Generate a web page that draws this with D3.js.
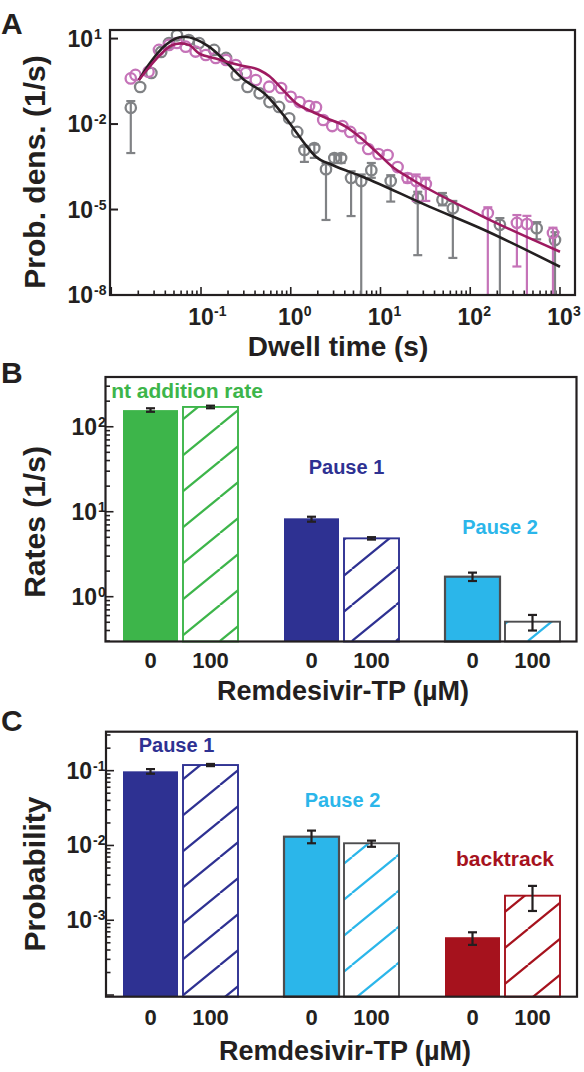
<!DOCTYPE html>
<html><head><meta charset="utf-8">
<script src="https://cdn.jsdelivr.net/npm/d3@7"></script>
<style>
body{margin:0;background:#fff}
svg{display:block}
text{font-family:"Liberation Sans",Arial,Helvetica,sans-serif;font-weight:bold;fill:#231f20}
</style>
</head><body>
<svg id="chart" width="584" height="1072"></svg>
<script>
// ================= DATA =================
// Panel A: dwell-time distributions (0 µM = gray, 100 µM = pink)
const grayT  = [0.0165,0.021,0.028,0.036,0.044,0.054,0.073,0.095,0.14,0.19,0.25,0.33,0.45,0.58,0.74,0.96,1.18,1.42,1.83,2.47,3.06,3.64,4.7,6.1,7.9,13,26,49,64,214,550,880];
const grayP  = [0.037,0.20,0.62,3.4,7.0,13.0,8.9,7.0,4.0,2.1,0.53,0.20,0.12,0.059,0.040,0.016,0.0053,1.23e-3,1.44e-3,2.6e-4,6.4e-4,6.4e-4,1.28e-4,1.0e-4,2.4e-4,1.0e-4,2.5e-5,2.2e-5,1.1e-5,2.9e-6,2.2e-6,8.5e-7];
const grayLo = [9.6e-4,null,null,null,null,null,null,null,null,null,null,null,null,null,null,null,null,4.7e-4,6.5e-4,4.3e-6,4.3e-4,4.3e-4,5.9e-6,1e-10,1.3e-4,1.9e-5,2.5e-7,1.4e-5,2.0e-7,1e-10,9e-7,1e-10];
const grayHi = [0.064,null,null,null,null,null,null,null,null,null,null,null,null,null,null,null,null,1.6e-3,1.9e-3,4.3e-4,8.5e-4,8.5e-4,2.2e-4,1.7e-4,4.3e-4,1.6e-4,4.2e-5,3.8e-5,2.0e-5,5e-6,3.6e-6,1.6e-6];

const pinkT  = [0.0165,0.0186,0.026,0.034,0.044,0.054,0.0675,0.087,0.113,0.146,0.19,0.244,0.316,0.408,0.575,0.78,1.0,1.25,1.6,1.91,2.3,2.9,3.76,4.6,6.0,7.3,9.5,12,15.5,20,25,32,157,331,428,835];
const pinkP  = [0.40,0.53,0.69,4.0,6.0,7.0,5.2,3.5,2.65,2.1,1.77,1.18,0.62,0.35,0.205,0.184,0.091,0.059,0.043,0.039,0.0139,0.0085,0.0085,0.0053,0.0032,0.00133,8.9e-4,8.2e-4,3.1e-4,1.28e-4,1.0e-4,7.9e-5,7.5e-6,3.4e-6,3.1e-6,1.5e-6];
const pinkLo = [null,null,null,null,null,null,null,null,null,null,null,null,null,null,null,null,null,null,null,null,null,null,null,null,null,null,null,null,null,9e-5,2.0e-5,2.0e-5,1e-10,1.0e-7,1e-10,1e-10];
const pinkHi = [null,null,null,null,null,null,null,null,null,null,null,null,null,null,null,null,null,null,null,null,null,null,null,null,null,null,null,null,null,1.8e-4,1.7e-4,1.3e-4,1.2e-5,6.4e-6,6e-6,2.3e-6];

const fit0T = [0.0203,0.026,0.0403,0.0645,0.1228,0.189,0.29,0.53,0.885,1.14,1.47,1.91,2.91,6.3,35,128,1000];
const fit0P = [0.35,1.18,6.0,11.6,5.2,1.54,0.40,0.105,0.0159,5.4e-3,1.84e-3,7.1e-4,3.65e-4,1.42e-4,1.26e-5,2.24e-6,9.8e-8];
const fit100T = [0.0203,0.026,0.0367,0.046,0.059,0.0734,0.095,0.146,0.266,0.445,0.575,0.8,1.14,1.74,2.47,4.1,5.82,8.95,13.5,21.1,128,1000];
const fit100P = [0.35,0.93,3.1,5.6,6.8,6.0,3.0,2.0,1.18,0.79,0.485,0.17,0.055,0.027,0.0163,0.0081,0.0036,0.00107,3.2e-4,1.28e-4,6.4e-6,3.3e-7];

const xTicksA = [0.1,1,10,100,1000];
const xTickExpA = ['-1','0','1','2','3'];
const yTicksA = [10,1e-2,1e-5,1e-8];
const yTickExpA = ['1','-2','-5','-8'];

// Panel B: rates
const rateGroups = ['nt addition rate','Pause 1','Pause 2'];
const concs = ['0','100'];
const rate0   = [157,8.36,1.72];
const rate0Lo = [150,7.63,1.53];
const rate0Hi = [165,8.73,1.92];
const rate100   = [171,4.86,0.508];
const rate100Lo = [165,4.70,0.40];
const rate100Hi = [177,5.02,0.61];
const yTicksB = [1,10,100];
const yTickExpB = ['0','1','2'];

// Panel C: probabilities
const probGroups = ['Pause 1','Pause 2','backtrack'];
const prob0   = [0.098,0.0131,5.93e-4];
const prob0Lo = [0.091,0.0107,4.68e-4];
const prob0Hi = [0.105,0.0158,6.9e-4];
const prob100   = [0.119,0.0107,2.13e-3];
const prob100Lo = [0.115,0.0096,1.33e-3];
const prob100Hi = [0.123,0.0116,2.88e-3];
const yTicksC = [0.1,0.01,0.001];
const yTickExpC = ['-1','-2','-3'];

// ================= STYLE =================
const ink = '#231f20';
const grayC = '#808285', pinkC = '#c573b8', blackLine = '#231f20', crimson = '#9e1a60';
const green = '#3db54a', navy = '#2e3192', cyan = '#2bb6ea', red = '#a6121d', edgeGray = '#4d4d4f';

const svg = d3.select('#chart');
const defs = svg.append('defs');

function hatch(id, color){
  const w = 44, h = 36;
  const p = defs.append('pattern').attr('id', id).attr('patternUnits','userSpaceOnUse')
    .attr('width', w).attr('height', h).attr('y', -7);
  p.append('rect').attr('width', w).attr('height', h).attr('fill','#fff');
  p.append('path').attr('d', `M${-w},${h} L0,0 M0,${h} L${w},0 M${w},${h} L${2*w},0`)
    .attr('stroke', color).attr('stroke-width', 2.2).attr('fill','none');
}
hatch('hG', green); hatch('hN', navy); hatch('hC', cyan); hatch('hR', red);

function minorTicks(domain){
  const out = [];
  const lo = Math.floor(Math.log10(domain[0])), hi = Math.ceil(Math.log10(domain[1]));
  for(let e = lo; e <= hi; e++) for(let m = 1; m <= 9; m++){
    const v = m * Math.pow(10, e);
    if(v >= domain[0] && v <= domain[1]) out.push({v, major: m === 1});
  }
  return out;
}

function yLabelPow(g, y, x10end, exp){
  g.append('text').attr('x', x10end).attr('y', y + 8).attr('text-anchor','end').attr('font-size', 23).text('10');
  g.append('text').attr('x', x10end + 1).attr('y', y).attr('font-size', 14).text(exp);
}

function panelLetter(t, x, y){ svg.append('text').attr('x', x).attr('y', y).attr('font-size', 30).text(t); }

// ================= PANEL A =================
const A = {l:110, r:575, t:30, b:295};
const xA = d3.scaleLog().domain([0.00968, 1470]).range([A.l, A.r]);
const yA = d3.scaleLog().domain([1e-8, 20]).range([A.b, A.t]).clamp(true);
const gA = svg.append('g');

// x ticks
gA.selectAll('line.xt').data(minorTicks(xA.domain())).enter().append('line')
  .attr('x1', d => xA(d.v)).attr('x2', d => xA(d.v))
  .attr('y1', A.b).attr('y2', d => A.b - (d.major ? 8 : 4.5))
  .attr('stroke', ink).attr('stroke-width', 1.6);
// y ticks
gA.selectAll('line.yt').data(yTicksA).enter().append('line')
  .attr('x1', A.l).attr('x2', A.l + 8).attr('y1', d => yA(d)).attr('y2', d => yA(d))
  .attr('stroke', ink).attr('stroke-width', 2);

xTicksA.forEach((v,i) => {
  const x = xA(v);
  gA.append('text').attr('x', x).attr('y', 325).attr('text-anchor','middle').attr('font-size', 23).text('10');
  gA.append('text').attr('x', x + 13).attr('y', 316).attr('font-size', 14).text(xTickExpA[i]);
});
yTicksA.forEach((v,i) => yLabelPow(gA, yA(v), A.l - 17, yTickExpA[i]));

// error bars
function errBarsA(T, P, Lo, Hi, color){
  const idx = T.map((t,i) => i).filter(i => Lo[i] !== null);
  const g = gA.append('g').attr('stroke', color).attr('stroke-width', 2.2).attr('fill','none');
  idx.forEach(i => {
    const x = xA(T[i]);
    g.append('line').attr('x1', x).attr('x2', x).attr('y1', yA(Lo[i])).attr('y2', yA(Hi[i]));
    g.append('line').attr('x1', x-4.5).attr('x2', x+4.5).attr('y1', yA(Hi[i])).attr('y2', yA(Hi[i]));
    if(Lo[i] > 1e-8) g.append('line').attr('x1', x-4.5).attr('x2', x+4.5).attr('y1', yA(Lo[i])).attr('y2', yA(Lo[i]));
  });
}
function circlesA(T, P, color){
  gA.append('g').selectAll('circle').data(T).enter().append('circle')
    .attr('cx', (t) => xA(t)).attr('cy', (t,i) => yA(P[i])).attr('r', 5.2)
    .attr('fill','none').attr('stroke', color).attr('stroke-width', 2.3);
}
errBarsA(grayT, grayP, grayLo, grayHi, grayC);
circlesA(grayT, grayP, grayC);
errBarsA(pinkT, pinkP, pinkLo, pinkHi, pinkC);
circlesA(pinkT, pinkP, pinkC);

const lineA = d3.line().x(d => xA(d[0])).y(d => yA(d[1])).curve(d3.curveMonotoneX);
gA.append('path').attr('d', lineA(fit0T.map((t,i) => [t, fit0P[i]])))
  .attr('fill','none').attr('stroke', blackLine).attr('stroke-width', 2.6);
gA.append('path').attr('d', lineA(fit100T.map((t,i) => [t, fit100P[i]])))
  .attr('fill','none').attr('stroke', crimson).attr('stroke-width', 2.6);

gA.append('rect').attr('x', A.l).attr('y', A.t).attr('width', A.r - A.l).attr('height', A.b - A.t)
  .attr('fill','none').attr('stroke', ink).attr('stroke-width', 2.2);

gA.append('text').attr('x', 338).attr('y', 356).attr('text-anchor','middle').attr('font-size', 28).text('Dwell time (s)');
gA.append('text').attr('transform', 'translate(45,172) rotate(-90)').attr('text-anchor','middle').attr('font-size', 30).text('Prob. dens. (1/s)');
panelLetter('A', 1, 34);

// ================= BAR PANELS =================
function barPanel(P, yDomain, groups, v0, lo0, hi0, v1, lo1, hi1, fills, edges0, edges1, hatches, yTicks, yExp, x10end, labBase){
  const g = svg.append('g');
  const y = d3.scaleLog().domain(yDomain).range([P.b, P.t]);
  const xG = d3.scaleBand().domain(groups).range([100, 583]);
  const xC = d3.scaleBand().domain(concs).range([0, 115]).paddingInner(1/12);
  const gx = gr => xG(gr) + (xG.bandwidth() - 115) / 2;

  groups.forEach((gr, i) => {
    const x0 = gx(gr) + xC('0'), x1 = gx(gr) + xC('100'), bw = xC.bandwidth();
    g.append('rect').attr('x', x0).attr('y', y(v0[i])).attr('width', bw).attr('height', P.b - y(v0[i]))
      .attr('fill', fills[i]).attr('stroke', edges0[i]).attr('stroke-width', edges0[i] === 'none' ? 0 : 2.2);
    g.append('rect').attr('x', x1).attr('y', y(v1[i])).attr('width', bw).attr('height', P.b - y(v1[i]))
      .attr('fill', `url(#${hatches[i]})`).attr('stroke', edges1[i]).attr('stroke-width', 1.9);
    [[x0, lo0[i], hi0[i]], [x1, lo1[i], hi1[i]]].forEach(([bx, lo, hi]) => {
      const cx = bx + bw / 2;
      const eg = g.append('g').attr('stroke', ink).attr('stroke-width', 2.2);
      eg.append('line').attr('x1', cx).attr('x2', cx).attr('y1', y(lo)).attr('y2', y(hi));
      eg.append('line').attr('x1', cx-4.5).attr('x2', cx+4.5).attr('y1', y(lo)).attr('y2', y(lo));
      eg.append('line').attr('x1', cx-4.5).attr('x2', cx+4.5).attr('y1', y(hi)).attr('y2', y(hi));
    });
    g.append('text').attr('x', x0 + bw/2).attr('y', labBase).attr('text-anchor','middle').attr('font-size', 22).text('0');
    g.append('text').attr('x', x1 + bw/2).attr('y', labBase).attr('text-anchor','middle').attr('font-size', 22).text('100');
  });

  g.selectAll('line.t').data(minorTicks(y.domain())).enter().append('line')
    .attr('x1', P.l).attr('x2', d => P.l + (d.major ? 8 : 4.5))
    .attr('y1', d => y(d.v)).attr('y2', d => y(d.v))
    .attr('stroke', ink).attr('stroke-width', 1.6);
  yTicks.forEach((v,i) => yLabelPow(g, y(v), x10end, yExp[i]));

  g.append('rect').attr('x', P.l).attr('y', P.t).attr('width', P.r - P.l).attr('height', P.b - P.t)
    .attr('fill','none').attr('stroke', ink).attr('stroke-width', 2.2);
  return {g, y, xG};
}

// Panel B
const B = {l:105.5, r:576.5, t:377, b:641.5};
const pB = barPanel(B, [0.297, 385], rateGroups, rate0, rate0Lo, rate0Hi, rate100, rate100Lo, rate100Hi,
  [green, navy, cyan], ['none','none',edgeGray], [green, navy, edgeGray], ['hG','hN','hC'],
  yTicksB, yTickExpB, 97, 668);
pB.g.append('text').attr('x', 187).attr('y', 398).attr('text-anchor','middle').attr('font-size', 21).style('fill', green).text('nt addition rate');
pB.g.append('text').attr('x', 346.5).attr('y', 474).attr('text-anchor','middle').attr('font-size', 20).style('fill', navy).text('Pause 1');
pB.g.append('text').attr('x', 500).attr('y', 534).attr('text-anchor','middle').attr('font-size', 20).style('fill', cyan).text('Pause 2');
pB.g.append('text').attr('x', 343).attr('y', 700).attr('text-anchor','middle').attr('font-size', 27).text('Remdesivir-TP (µM)');
pB.g.append('text').attr('transform', 'translate(45,522) rotate(-90)').attr('text-anchor','middle').attr('font-size', 30).text('Rates (1/s)');
panelLetter('B', 1, 383);

// Panel C
const C = {l:106, r:577, t:731.7, b:996.7};
const pC = barPanel(C, [9.5e-5, 0.332], probGroups, prob0, prob0Lo, prob0Hi, prob100, prob100Lo, prob100Hi,
  [navy, cyan, red], ['none',edgeGray,'none'], [navy, edgeGray, red], ['hN','hC','hR'],
  yTicksC, yTickExpC, 92, 1025);
pC.g.append('text').attr('x', 176.5).attr('y', 752).attr('text-anchor','middle').attr('font-size', 20).style('fill', navy).text('Pause 1');
pC.g.append('text').attr('x', 342.5).attr('y', 807).attr('text-anchor','middle').attr('font-size', 20).style('fill', cyan).text('Pause 2');
pC.g.append('text').attr('x', 505).attr('y', 866).attr('text-anchor','middle').attr('font-size', 21).style('fill', red).text('backtrack');
pC.g.append('text').attr('x', 345).attr('y', 1060).attr('text-anchor','middle').attr('font-size', 27).text('Remdesivir-TP (µM)');
pC.g.append('text').attr('transform', 'translate(45,874) rotate(-90)').attr('text-anchor','middle').attr('font-size', 30).text('Probability');
panelLetter('C', 1, 731);
</script>
</body></html>
